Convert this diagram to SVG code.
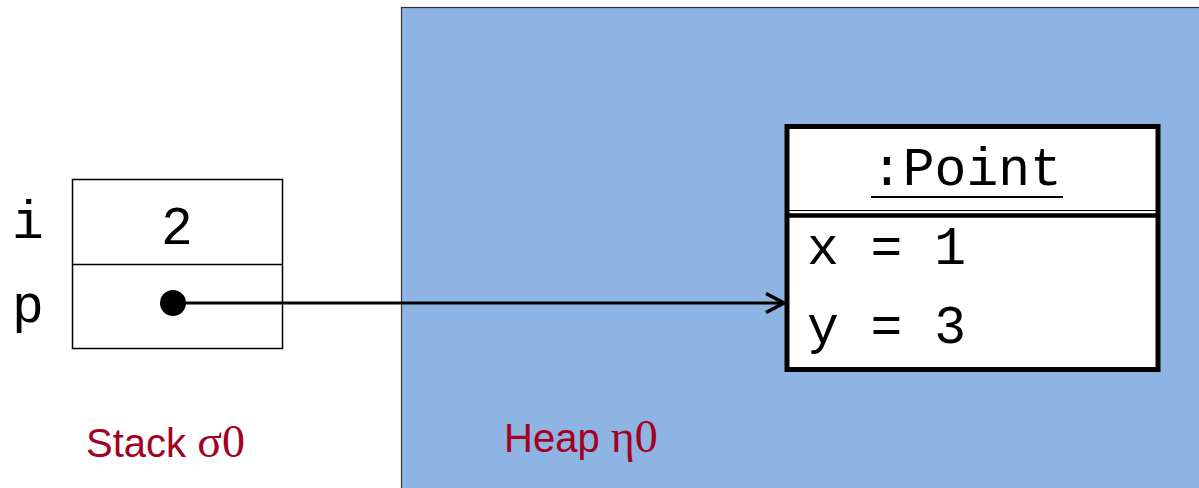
<svg xmlns="http://www.w3.org/2000/svg" width="1199" height="488" viewBox="0 0 1199 488">
<defs>
<style>
.mono{font-family:"Liberation Mono","Courier New",monospace;font-size:53px;fill:#000}
.lbl{font-family:"Liberation Sans",Arial,sans-serif;font-size:40px;fill:#A50021}
.greek{font-family:"Liberation Serif","Times New Roman",serif;font-size:46px}
</style>
<marker id="open" markerUnits="userSpaceOnUse" markerWidth="26" markerHeight="26" viewBox="0 0 26 26" refX="22" refY="13" orient="auto">
<path d="M4 3.5 L22 13 L4 22.5" fill="none" stroke="#000" stroke-width="3.6"/>
</marker>
</defs>
<rect width="1199" height="488" fill="#fff"/>
<g id="heap">
<rect x="401.5" y="7.5" width="800" height="490" fill="#8EB4E3" stroke="#333" stroke-width="1.2"/>
<text class="lbl" x="504" y="452">Heap <tspan class="greek">η0</tspan></text>
</g>
<g id="stack">
<rect x="72.5" y="179.5" width="210" height="169" fill="#fff" stroke="#000" stroke-width="1.5"/>
<line x1="72.5" y1="264.5" x2="282.5" y2="264.5" stroke="#000" stroke-width="1.5"/>
<text class="mono" x="28" y="238" text-anchor="middle">i</text>
<text class="mono" x="177" y="244" text-anchor="middle">2</text>
<text class="mono" x="28" y="322" text-anchor="middle">p</text>
<circle cx="173" cy="303" r="13" fill="#000"/>
<text class="lbl" x="86" y="457">Stack <tspan class="greek">σ0</tspan></text>
</g>
<g id="point">
<rect x="787" y="126.5" width="371" height="243" fill="#fff" stroke="#000" stroke-width="5"/>
<line x1="787" y1="210.5" x2="1158" y2="210.5" stroke="#000" stroke-width="1.2"/>
<line x1="787" y1="215.5" x2="1158" y2="215.5" stroke="#000" stroke-width="4.5"/>
<text class="mono" x="871" y="185">:Point</text>
<line x1="871" y1="197" x2="1063" y2="197" stroke="#000" stroke-width="2"/>
<text class="mono" x="807" y="264">x = 1</text>
<text class="mono" x="807" y="343">y = 3</text>
</g>
<g id="connectors">
<line x1="173" y1="303" x2="784" y2="303" stroke="#000" stroke-width="3.2" marker-end="url(#open)"/>
</g>
</svg>
